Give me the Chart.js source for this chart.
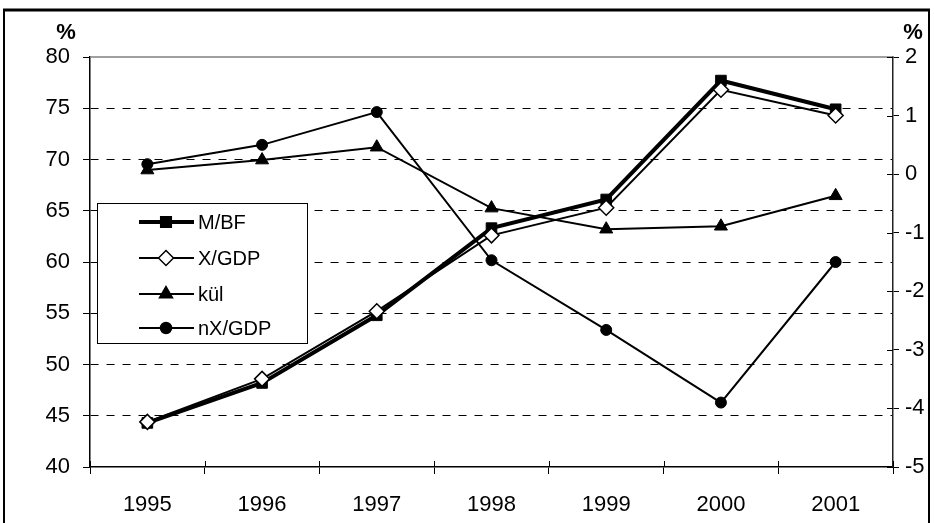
<!DOCTYPE html>
<html>
<head>
<meta charset="utf-8">
<script src="https://cdn.jsdelivr.net/npm/chart.js@4.4.0/dist/chart.umd.min.js"></script>
<style>
    body { margin: 0; background: #fff; }
    canvas { display: block; }
</style>
</head>
<body>
<canvas id="myChart" width="934" height="523"></canvas>
<script>
// data
let years = ["1995", "1996", "1997", "1998", "1999", "2000", "2001"];
let mbf = [44.3, 48.2, 54.8, 63.3, 66.1, 77.7, 74.9];
let xgdp = [44.4, 48.6, 55.2, 62.6, 65.3, 76.8, 74.3];
let kul = [0.07, 0.24, 0.46, -0.58, -0.94, -0.89, -0.37];
let nxgdp = [0.17, 0.50, 1.06, -1.47, -2.66, -3.90, -1.50];
let leftTicks = [40, 45, 50, 55, 60, 65, 70, 75, 80];
let rightTicks = [-5, -4, -3, -2, -1, 0, 1, 2];
let seriesNames = ["M/BF", "X/GDP", "kül", "nX/GDP"];

let fontFamily = "'Liberation Sans', Arial, sans-serif";

function drawMarker(ctx, style, x, y, r, fill) {
    ctx.save();
    ctx.fillStyle = fill;
    ctx.strokeStyle = "#000";
    ctx.lineWidth = 1.5;
    ctx.beginPath();
    if (style === "rect") {
        let s = Math.SQRT1_2 * r;
        ctx.rect(x - s, y - s, 2 * s, 2 * s);
    } else if (style === "rectRot") {
        ctx.moveTo(x - r, y);
        ctx.lineTo(x, y - r);
        ctx.lineTo(x + r, y);
        ctx.lineTo(x, y + r);
        ctx.closePath();
    } else if (style === "triangle") {
        for (let i = 0; i < 3; i++) {
            let a = i * 2 * Math.PI / 3;
            let px = x + Math.sin(a) * r, py = y - Math.cos(a) * r;
            if (i === 0) ctx.moveTo(px, py); else ctx.lineTo(px, py);
        }
        ctx.closePath();
    } else {
        ctx.arc(x, y, r, 0, Math.PI * 2);
    }
    ctx.fill();
    ctx.stroke();
    ctx.restore();
}

let framePlugin = {
    id: "frame",
    beforeDraw(chart) {
        let ctx = chart.ctx;
        ctx.save();
        ctx.fillStyle = "#fff";
        ctx.fillRect(0, 0, chart.width, chart.height);
        ctx.strokeStyle = "#000";
        ctx.lineWidth = 2;
        ctx.strokeRect(4, 10, 925, 540);
        ctx.lineWidth = 3;
        ctx.beginPath();
        ctx.moveTo(3, 10);
        ctx.lineTo(930, 10);
        ctx.stroke();
        ctx.fillStyle = "#000";
        ctx.font = "bold 22px " + fontFamily;
        ctx.textAlign = "center";
        ctx.textBaseline = "middle";
        ctx.fillText("%", 66, 33);
        ctx.fillText("%", 913, 33);
        ctx.restore();
    },
    afterDraw(chart) {
        let ctx = chart.ctx;
        let area = chart.chartArea;
        let xs = chart.scales.x;
        let yr = chart.scales.y1;
        ctx.save();
        // plot top border
        ctx.strokeStyle = "#808080";
        ctx.lineWidth = 1.5;
        ctx.beginPath();
        ctx.moveTo(area.left, area.top);
        ctx.lineTo(area.right, area.top);
        ctx.stroke();
        // inner halves of the crossing tick marks
        ctx.strokeStyle = "#000";
        ctx.lineWidth = 1;
        let step = xs.getPixelForValue(1) - xs.getPixelForValue(0);
        ctx.beginPath();
        for (let i = 0; i <= years.length; i++) {
            let px = Math.round(xs.getPixelForValue(i) - step / 2) + 0.5;
            ctx.moveTo(px, area.bottom);
            ctx.lineTo(px, area.bottom - 6);
        }
        rightTicks.forEach(v => {
            let py = Math.round(yr.getPixelForValue(v)) + 0.5;
            ctx.moveTo(area.right, py);
            ctx.lineTo(area.right - 6, py);
        });
        ctx.stroke();

        // legend box
        let bx = 97, by = 203, bw = 210, bh = 140;
        ctx.fillStyle = "#fff";
        ctx.fillRect(bx, by, bw, bh);
        ctx.strokeStyle = "#000";
        ctx.lineWidth = 1;
        ctx.strokeRect(bx + 0.5, by + 0.5, bw, bh);
        let rows = [222, 258, 294, 328];
        chart.data.datasets.forEach((ds, i) => {
            let y = rows[i];
            ctx.strokeStyle = "#000";
            ctx.lineWidth = ds.borderWidth;
            ctx.beginPath();
            ctx.moveTo(139, y);
            ctx.lineTo(194, y);
            ctx.stroke();
            drawMarker(ctx, ds.pointStyle, 166, y, ds.pointRadius, ds.pointBackgroundColor);
            ctx.fillStyle = "#000";
            ctx.font = "20px " + fontFamily;
            ctx.textAlign = "left";
            ctx.textBaseline = "middle";
            ctx.fillText(seriesNames[i], 198, y + 1);
        });
        ctx.restore();
    }
};

let myChart = document.getElementById("myChart").getContext("2d");

let lineChart = new Chart(myChart, {
    type: "line",
    data: {
        labels: years,
        datasets: [
            {
                label: seriesNames[0],
                data: mbf,
                yAxisID: "y",
                borderColor: "#000",
                borderWidth: 4,
                pointStyle: "rect",
                pointRadius: 7.5,
                pointBackgroundColor: "#000",
                pointBorderColor: "#000",
                pointBorderWidth: 1,
                order: 1
            },
            {
                label: seriesNames[1],
                data: xgdp,
                yAxisID: "y",
                borderColor: "#000",
                borderWidth: 2,
                pointStyle: "rectRot",
                pointRadius: 7.5,
                pointBackgroundColor: "#fff",
                pointBorderColor: "#000",
                pointBorderWidth: 1.5,
                order: 0
            },
            {
                label: seriesNames[2],
                data: kul,
                yAxisID: "y1",
                borderColor: "#000",
                borderWidth: 2,
                pointStyle: "triangle",
                pointRadius: 7.5,
                pointBackgroundColor: "#000",
                pointBorderColor: "#000",
                pointBorderWidth: 1,
                order: 2
            },
            {
                label: seriesNames[3],
                data: nxgdp,
                yAxisID: "y1",
                borderColor: "#000",
                borderWidth: 2,
                pointStyle: "circle",
                pointRadius: 5.5,
                pointBackgroundColor: "#000",
                pointBorderColor: "#000",
                pointBorderWidth: 1,
                order: 3
            }
        ]
    },
    options: {
        responsive: false,
        animation: false,
        tension: 0,
        layout: { padding: { top: 57, left: 0, right: 0, bottom: 0 } },
        plugins: {
            legend: { display: false },
            tooltip: { enabled: false }
        },
        scales: {
            x: {
                offset: true,
                grid: {
                    offset: true,
                    drawOnChartArea: false,
                    drawTicks: true,
                    tickLength: 7,
                    tickColor: "#000",
                    tickWidth: 1
                },
                border: { color: "#000", width: 1.5 },
                ticks: {
                    color: "#000",
                    font: { family: fontFamily, size: 22 },
                    padding: 18,
                    maxRotation: 0
                },
                afterFit: s => { s.height = 56; }
            },
            y: {
                position: "left",
                min: 40,
                max: 80,
                afterBuildTicks: s => { s.ticks = leftTicks.map(v => ({ value: v })); },
                grid: {
                    color: c => (c.tick && (c.tick.value === 40 || c.tick.value === 80)) ? "rgba(0,0,0,0)" : "#000",
                    lineWidth: 1,
                    tickLength: 7,
                    tickColor: "#000",
                    tickWidth: 1
                },
                border: { color: "#000", width: 1.5, dash: [8, 8] },
                ticks: {
                    color: "#000",
                    font: { family: fontFamily, size: 22 },
                    padding: 13
                },
                afterFit: s => { s.width = 90; }
            },
            y1: {
                position: "right",
                min: -5,
                max: 2,
                afterBuildTicks: s => { s.ticks = rightTicks.map(v => ({ value: v })); },
                grid: {
                    drawOnChartArea: false,
                    tickLength: 6,
                    tickColor: "#000",
                    tickWidth: 1
                },
                border: { color: "#222", width: 1.5 },
                ticks: {
                    color: "#000",
                    font: { family: fontFamily, size: 22 },
                    padding: 6
                },
                afterFit: s => { s.width = 41; }
            }
        }
    },
    plugins: [framePlugin]
});
</script>
</body>
</html>
